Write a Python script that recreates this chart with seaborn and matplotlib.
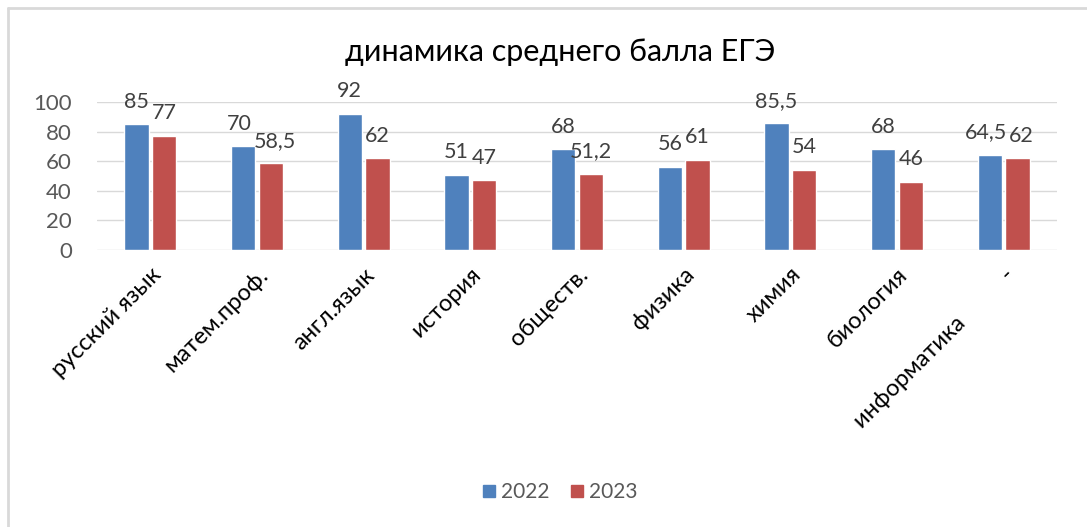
import numpy as np
import pandas as pd
import matplotlib
matplotlib.use("Agg")
import matplotlib.pyplot as plt
import seaborn as sns
from matplotlib.lines import Line2D

subjects = ["русский язык", "матем.проф.", "англ.язык", "история", "обществ.",
            "физика", "химия", "биология", "информатика          -"]
scores_2022 = [85, 70, 92, 51, 68, 56, 85.5, 68, 64.5]
scores_2023 = [77, 58.5, 62, 47, 51.2, 61, 54, 46, 62]
years = ["2022", "2023"]
colors = ["#4F81BD", "#C0504D"]

df = pd.DataFrame({
    "subject": subjects * 2,
    "score": scores_2022 + scores_2023,
    "year": [years[0]] * len(subjects) + [years[1]] * len(subjects),
})

sns.set_theme(style="white")
plt.rcParams["font.family"] = ["Lato", "DejaVu Sans"]

fig = plt.figure(figsize=(10.87, 5.27), dpi=100)
ax = fig.add_axes([97 / 1087, 1 - 250 / 527, (1057 - 97) / 1087, 148 / 527])

sns.barplot(data=df, x="subject", y="score", hue="year", palette=colors,
            width=0.52, gap=0.13, ax=ax, legend=False, saturation=1)

ax.set_ylim(0, 100)
ax.set_yticks(range(0, 101, 20))
ax.grid(axis="y", color="#D9D9D9", linewidth=1)
ax.set_axisbelow(True)
for s in ax.spines.values():
    s.set_visible(False)
ax.set_xlabel("")
ax.set_ylabel("")
ax.tick_params(axis="y", labelsize=16, labelcolor="#595959", length=0, pad=18)
ax.tick_params(axis="x", length=0, pad=10)
plt.setp(ax.get_xticklabels(), rotation=45, ha="right", rotation_mode="anchor",
         fontsize=17, color="black")

# value labels, one list per year
labels = []
for cont in ax.containers:
    row = []
    for bar in cont:
        h = bar.get_height()
        txt = f"{h:g}".replace(".", ",")
        row.append(ax.annotate(txt, (bar.get_x() + bar.get_width() / 2, h),
                               xytext=(0, 12), textcoords="offset points",
                               ha="center", va="baseline", fontsize=15.5,
                               color="#404040"))
    labels.append(row)

# push apart the pairs that collide
fig.canvas.draw()
renderer = fig.canvas.get_renderer()
for left, right in zip(*labels):
    a = left.get_window_extent(renderer)
    b = right.get_window_extent(renderer)
    if a.overlaps(b):
        shift = (a.x1 - b.x0) / 2 + 1
        left.set_position((-shift * 72 / fig.dpi, 12))
        right.set_position((shift * 72 / fig.dpi, 12))

fig.text(560 / 1087, 1 - 52 / 527, "динамика среднего балла ЕГЭ", ha="center",
         va="center", fontsize=22, color="black")

handles = [Line2D([], [], marker="s", linestyle="", markersize=8,
                  markerfacecolor=c, markeredgecolor=c) for c in colors]
fig.legend(handles, years, loc="center", bbox_to_anchor=(558 / 1087, 1 - 492 / 527),
           ncol=2, frameon=False, fontsize=15, handletextpad=0.1,
           columnspacing=0.8, labelcolor="#595959", handlelength=1.0)

fig.add_artist(Line2D([8 / 1087, 1], [1 - 8 / 527, 1 - 8 / 527],
                      transform=fig.transFigure, color="#D9D9D9", linewidth=2))
fig.add_artist(Line2D([8 / 1087, 8 / 1087], [0, 1 - 8 / 527],
                      transform=fig.transFigure, color="#D9D9D9", linewidth=2))

fig.savefig("out.png", dpi=100)
